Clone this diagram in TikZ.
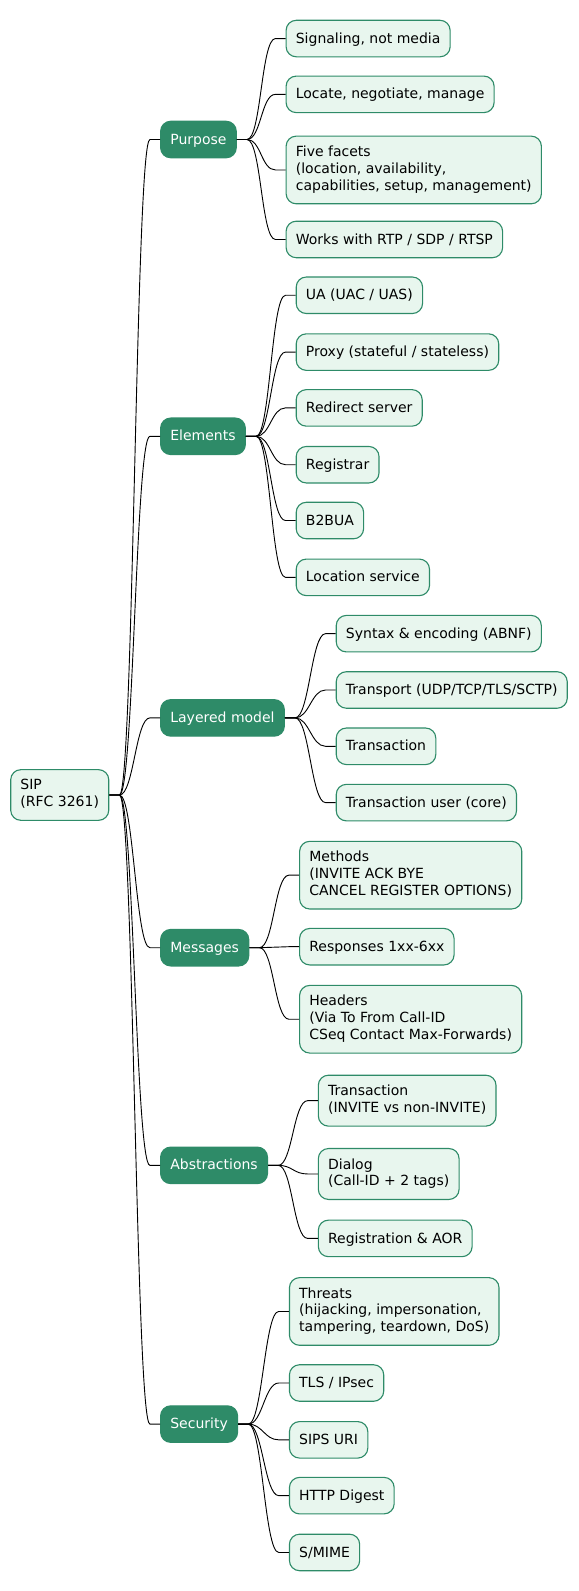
\documentclass[tikz,border=0pt]{standalone}
\usepackage{fontspec}
\setmainfont{DejaVu Sans}
\usetikzlibrary{calc,positioning}

\definecolor{mmgreen}{HTML}{2E8B68}
\definecolor{mmleaf}{HTML}{E8F6EE}

% fixed line box so one-line and multi-line nodes get the same padding
\newcommand\mmstrut{\rule[-3.7pt]{0pt}{16.5pt}}

\tikzset{
  mmbox/.style={rounded corners=10pt, line width=1.1pt, draw=mmgreen,
    inner xsep=9.6pt, inner ysep=9.75pt, align=left,
    font=\fontsize{13.8}{16.5}\selectfont,
    execute at begin node=\mmstrut, execute at end node=\mmstrut},
  topic/.style={mmbox, fill=mmleaf, text=black},
  branch/.style={mmbox, fill=mmgreen, text=white},
  leaf/.style={mmbox, fill=mmleaf, text=black},
  link/.style={line width=0.9pt, to path={-- ++(10,0)
    .. controls +(14,0) and +(-14,0) .. ($(\tikztotarget)+(-10,0)$)
    -- (\tikztotarget)}}
}

\begin{document}
\begin{tikzpicture}[x=1pt, y=-1pt]
  \useasboundingbox (0,0) rectangle (570,1568);

  \node[topic, anchor=west] (sip) at (10,783.5) {SIP\\(RFC 3261)};

  % main branches
  \node[branch, right=50pt of sip, yshift=646pt] (purpose) {Purpose};
  \node[branch, right=50pt of sip, yshift=353.5pt] (elements) {Elements};
  \node[branch, right=50pt of sip, yshift=76pt] (layers) {Layered model};
  \node[branch, right=50pt of sip, yshift=-150.5pt] (messages) {Messages};
  \node[branch, right=50pt of sip, yshift=-365pt] (abstr) {Abstractions};
  \node[branch, right=50pt of sip, yshift=-620pt] (security) {Security};

  % purpose
  \node[leaf, right=48pt of purpose, yshift=99.5pt] (signal) {Signaling, not media};
  \node[leaf, right=48pt of purpose, yshift=44.5pt] (locate) {Locate, negotiate, manage};
  \node[leaf, right=48pt of purpose, yshift=-30pt] (facets) {Five facets\\(location, availability,\\capabilities, setup, management)};
  \node[leaf, right=48pt of purpose, yshift=-98.5pt] (rtp) {Works with RTP / SDP / RTSP};

  % elements
  \node[leaf, right=49pt of elements, yshift=139pt] (ua) {UA (UAC / UAS)};
  \node[leaf, right=49pt of elements, yshift=83pt] (proxy) {Proxy (stateful / stateless)};
  \node[leaf, right=49pt of elements, yshift=28pt] (redirect) {Redirect server};
  \node[leaf, right=49pt of elements, yshift=-28pt] (registrar) {Registrar};
  \node[leaf, right=49pt of elements, yshift=-83pt] (btbua) {B2BUA};
  \node[leaf, right=49pt of elements, yshift=-139pt] (locsvc) {Location service};

  % layered model
  \node[leaf, right=50pt of layers, yshift=83pt] (syntax) {Syntax \& encoding (ABNF)};
  \node[leaf, right=50pt of layers, yshift=27.5pt] (transport) {Transport (UDP/TCP/TLS/SCTP)};
  \node[leaf, right=50pt of layers, yshift=-28pt] (transact) {Transaction};
  \node[leaf, right=50pt of layers, yshift=-83.5pt] (tu) {Transaction user (core)};

  % messages
  \node[leaf, right=49pt of messages, yshift=71.5pt] (methods) {Methods\\(INVITE ACK BYE\\CANCEL REGISTER OPTIONS)};
  \node[leaf, right=49pt of messages, yshift=1pt] (responses) {Responses 1xx-6xx};
  \node[leaf, right=49pt of messages, yshift=-70.5pt] (headers) {Headers\\(Via To From Call-ID\\CSeq Contact Max-Forwards)};

  % abstractions
  \node[leaf, right=49pt of abstr, yshift=63.75pt] (trans) {Transaction\\(INVITE vs non-INVITE)};
  \node[leaf, right=49pt of abstr, yshift=-8.5pt] (dialog) {Dialog\\(Call-ID + 2 tags)};
  \node[leaf, right=49pt of abstr, yshift=-72pt] (aor) {Registration \& AOR};

  % security
  \node[leaf, right=50pt of security, yshift=111pt] (threats) {Threats\\(hijacking, impersonation,\\tampering, teardown, DoS)};
  \node[leaf, right=50pt of security, yshift=40.5pt] (tls) {TLS / IPsec};
  \node[leaf, right=50pt of security, yshift=-15.5pt] (sips) {SIPS URI};
  \node[leaf, right=50pt of security, yshift=-70.5pt] (digest) {HTTP Digest};
  \node[leaf, right=50pt of security, yshift=-126.5pt] (smime) {S/MIME};

  \foreach \b in {purpose,elements,layers,messages,abstr,security}
    \draw[link] (sip.east) to (\b.west);
  \foreach \l in {signal,locate,facets,rtp}
    \draw[link] (purpose.east) to (\l.west);
  \foreach \l in {ua,proxy,redirect,registrar,btbua,locsvc}
    \draw[link] (elements.east) to (\l.west);
  \foreach \l in {syntax,transport,transact,tu}
    \draw[link] (layers.east) to (\l.west);
  \foreach \l in {methods,responses,headers}
    \draw[link] (messages.east) to (\l.west);
  \foreach \l in {trans,dialog,aor}
    \draw[link] (abstr.east) to (\l.west);
  \foreach \l in {threats,tls,sips,digest,smime}
    \draw[link] (security.east) to (\l.west);
\end{tikzpicture}
\end{document}
